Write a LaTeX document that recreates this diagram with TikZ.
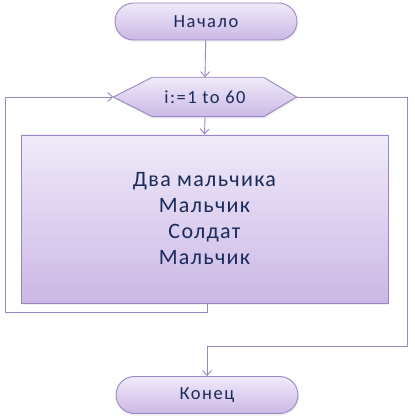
\documentclass[tikz,border=0pt]{standalone}
\usepackage{fontspec}
\setmainfont{Carlito}
\usetikzlibrary{arrows.meta,shapes.misc,shadows}
\definecolor{lineC}{HTML}{9A86C2}
\definecolor{topC}{HTML}{F0EAF9}
\definecolor{botC}{HTML}{CBB8E6}
\definecolor{txtC}{HTML}{1A2A5A}
\tikzset{
  fl/.style={draw=lineC, line width=0.9pt, top color=topC, bottom color=botC, text=txtC,
    drop shadow={shadow xshift=1pt, shadow yshift=-2pt, opacity=0.12}},
  smalltxt/.style={font=\fontsize{18.5pt}{21pt}\selectfont\addfontfeatures{LetterSpace=8}},
  term/.style={fl, smalltxt, rounded rectangle, minimum width=182pt, minimum height=37pt, inner sep=0pt},
  procbox/.style={fl, rectangle, minimum width=367pt, minimum height=168pt, inner sep=0pt, align=center,
    font=\fontsize{22pt}{26pt}\selectfont\addfontfeatures{LetterSpace=6}},
  conn/.style={draw=lineC, line width=0.9pt, -{Straight Barb[length=5pt,width=9pt]}}
}
\begin{document}
\begin{tikzpicture}[x=1pt,y=-1pt]
\useasboundingbox (0,0) rectangle (414,419);
\node[term] (start) at (206,21.5) {Начало};
\node[minimum width=183pt, minimum height=39pt, inner sep=0pt] (dec) at (205,97) {};
\path[fl] (dec.west) -- ([xshift=39pt]dec.north west) -- ([xshift=-33pt]dec.north east) -- (dec.east)
  -- ([xshift=-33pt]dec.south east) -- ([xshift=39pt]dec.south west) -- cycle;
\node[text=txtC, smalltxt] (dectext) at (dec) {i:=1 to 60};
\node[procbox] (box) at (204.5,219) {Два мальчика\\Мальчик\\Солдат\\Мальчик};
\node[term] (end) at (207,395) {Конец};
\coordinate (l2) at (5,312);
\coordinate (r1) at (407,346);
\draw[conn] (start) -- (dec.north);
\draw[conn] (dec.south) -- (box.north);
\draw[conn] ([xshift=2.5pt]box.south) |- (l2) |- (dec.west);
\draw[conn] (dec.east) -| (r1) -| (end.north);
\end{tikzpicture}
\end{document}
